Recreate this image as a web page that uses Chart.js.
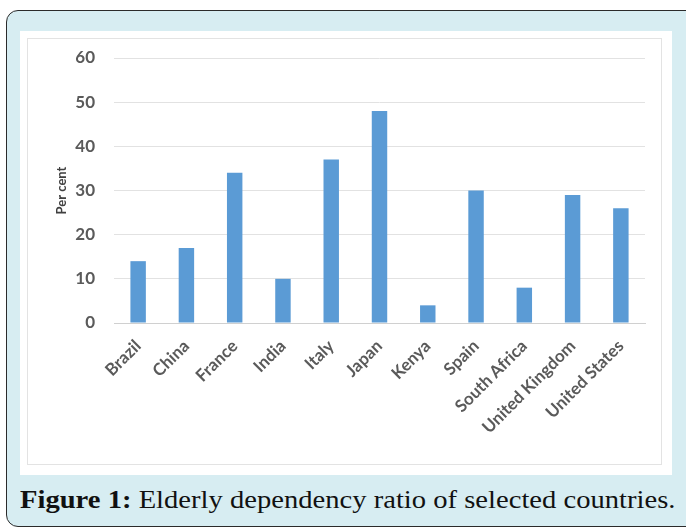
<!DOCTYPE html>
<html>
<head>
<meta charset="utf-8">
<script src="https://cdn.jsdelivr.net/npm/chart.js@4/dist/chart.umd.min.js"></script>
<style>
  html, body { margin: 0; padding: 0; background: #ffffff; }
  #frame {
    position: absolute; left: 6px; top: 10px; width: 700px; height: 517px;
    background: #d7edf2; border: 1.5px solid #2b2b2b; border-radius: 12px;
    box-sizing: border-box;
  }
  #panel {
    position: absolute; left: 20px; top: 31px; width: 652px; height: 444px;
    background: #ffffff;
  }
  #inner {
    position: absolute; left: 27px; top: 38px; width: 635px; height: 427px;
    border: 1px solid #e3e3e3; box-sizing: border-box; background: #fff;
  }
  #wrap { position: absolute; left: 28px; top: 39px; width: 633px; height: 425px; }
  #caption {
    position: absolute; left: 20px; top: 485px; white-space: nowrap;
    font-family: "Liberation Serif", "DejaVu Serif", serif; font-size: 26px; color: #111;
    transform-origin: 0 0; transform: scaleX(1.1);
  }
  #caption b { font-weight: bold; }
</style>
</head>
<body>
<div id="frame"></div>
<div id="panel"></div>
<div id="inner"></div>
<div id="wrap"><canvas id="c"></canvas></div>
<div id="caption"><b>Figure 1:</b> Elderly dependency ratio of selected countries.</div>
<script>
const countries = ["Brazil", "China", "France", "India", "Italy", "Japan", "Kenya", "Spain", "South Africa", "United Kingdom", "United States"];
const ratios = [14, 17, 34, 10, 37, 48, 4, 30, 8, 29, 26];
const yTicks = [0, 10, 20, 30, 40, 50, 60];

const tickFont = { family: "Lato, 'Open Sans', sans-serif", size: 17, weight: "bold" };

new Chart(document.getElementById("c"), {
  type: "bar",
  data: {
    labels: countries,
    datasets: [{
      label: "Per cent",
      data: ratios,
      backgroundColor: "#5b9bd5",
      borderWidth: 0,
      categoryPercentage: 1.0,
      barPercentage: 0.32
    }]
  },
  options: {
    responsive: true,
    maintainAspectRatio: false,
    animation: false,
    layout: { padding: { left: 26, right: 16, top: 19, bottom: 0 } },
    plugins: { legend: { display: false }, tooltip: { enabled: false } },
    scales: {
      x: {
        grid: { display: false },
        border: { color: "#d0d0d0", width: 1 },
        ticks: { color: "#5a5a5a", font: tickFont, maxRotation: 45, minRotation: 45, padding: 5 },
        afterFit: s => { s.height = 141; s.paddingLeft = 0; s.paddingRight = 0; }
      },
      y: {
        min: 0, max: 60,
        afterBuildTicks: s => { s.ticks = yTicks.map(v => ({ value: v })); },
        grid: { color: "#e2e2e2", drawTicks: false },
        border: { display: false },
        ticks: { color: "#5a5a5a", font: tickFont, padding: 19 },
        title: {
          display: true, text: "Per cent", color: "#404040",
          font: { family: "Lato, 'Open Sans', sans-serif", size: 13, weight: "bold" },
          padding: { top: 0, bottom: 0 }
        },
        afterFit: s => { s.width = 60; s.paddingTop = 0; s.paddingBottom = 0; }
      }
    }
  }
});
</script>
</body>
</html>
